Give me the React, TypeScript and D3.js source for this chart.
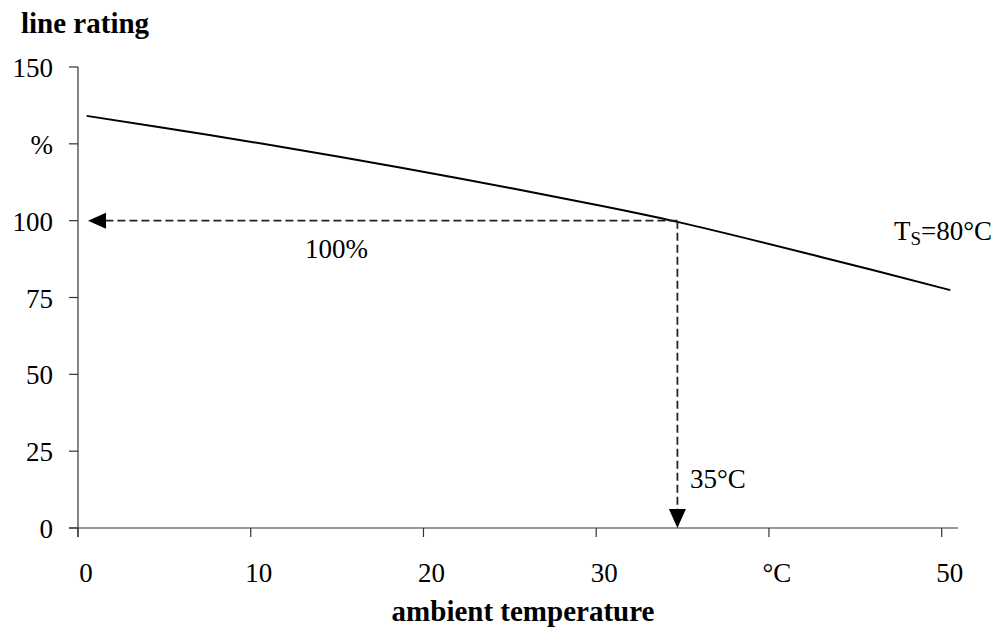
import React from "react";
import * as d3 from "d3";

const temps = [0.5, 7.6, 15.2, 22.1, 29.6, 34.7, 43.0, 50.5];
const ratings = [134.1, 127.9, 120.7, 113.7, 105.6, 99.6, 88.2, 77.4];
const xTicks = [0, 10, 20, 30, 40, 50];
const xTickLabels = ["0", "10", "20", "30", "°C", "50"];
const yTicks = [0, 25, 50, 75, 100, 125, 150];
const yTickLabels = ["0", "25", "50", "75", "100", "%", "150"];
const refTemp = 34.7;
const refRating = 100;

const W = 1002;
const H = 629;
const FONT = "'Liberation Serif', 'Times New Roman', serif";

export default function App() {
  const x = d3.scaleLinear().domain([0, 50]).range([78, 941.7]);
  const y = d3.scaleLinear().domain([0, 150]).range([528, 67]);

  const line = d3
    .line<number>()
    .x((_, i) => x(temps[i]))
    .y((d) => y(d))
    .curve(d3.curveCatmullRom.alpha(0.5));

  const rx = x(refTemp);
  const ry = y(refRating);
  const axisColor = "#333";

  return (
    <svg
      width={W}
      height={H}
      style={{ position: "absolute", left: 0, top: 0, background: "#fff" }}
      fontFamily={FONT}
    >
      {/* y axis */}
      <line x1={78} x2={78} y1={y(150)} y2={537} stroke={axisColor} strokeWidth={1.2} />
      {yTicks.map((t, i) => (
        <g key={"yt" + t}>
          <line x1={69} x2={78} y1={y(t)} y2={y(t)} stroke={axisColor} strokeWidth={1.2} />
          <text x={53} y={y(t) + 10} textAnchor="end" fontSize={27} fill="#000">
            {yTickLabels[i]}
          </text>
        </g>
      ))}
      {/* x axis */}
      <line x1={69} x2={958} y1={y(0)} y2={y(0)} stroke={axisColor} strokeWidth={1.2} />
      {xTicks.map((t, i) => (
        <g key={"xt" + t}>
          <line x1={x(t)} x2={x(t)} y1={y(0)} y2={537} stroke={axisColor} strokeWidth={1.2} />
          <text x={x(t) + 8} y={582} textAnchor="middle" fontSize={27} fill="#000">
            {xTickLabels[i]}
          </text>
        </g>
      ))}

      {/* curve */}
      <path d={line(ratings) || ""} fill="none" stroke="#000" strokeWidth={2} />

      {/* horizontal dashed arrow */}
      <line x1={rx} x2={106} y1={ry} y2={ry} stroke="#222" strokeWidth={1.8} strokeDasharray="8,4" />
      <path d={`M${88},${ry} L${106},${ry - 8} L${106},${ry + 8} Z`} fill="#000" />
      {/* vertical dashed arrow */}
      <line x1={rx} x2={rx} y1={ry} y2={510} stroke="#222" strokeWidth={1.8} strokeDasharray="8,4" />
      <path d={`M${rx},${y(0)} L${rx - 8.5},${509} L${rx + 8.5},${509} Z`} fill="#000" />

      {/* annotations */}
      <text x={305} y={258} fontSize={27} fill="#000">100%</text>
      <text x={690} y={488} fontSize={27} fill="#000">35°C</text>
      <text x={894} y={240} fontSize={27} fill="#000">
        T<tspan fontSize={19} dy={5}>S</tspan>
        <tspan dy={-5}>=80°C</tspan>
      </text>

      {/* titles */}
      <text x={21} y={33} fontSize={29} fontWeight="bold" fill="#000">line rating</text>
      <text x={523} y={621} fontSize={29} fontWeight="bold" textAnchor="middle" fill="#000">
        ambient temperature
      </text>
    </svg>
  );
}
